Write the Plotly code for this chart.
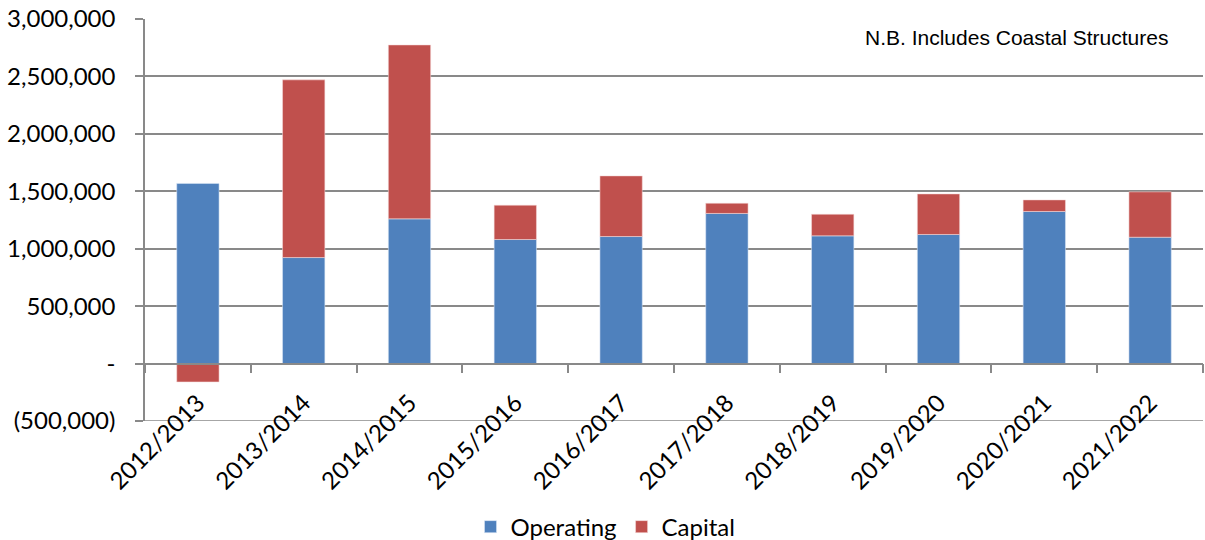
import plotly.graph_objects as go

categories = ["2012/2013", "2013/2014", "2014/2015", "2015/2016", "2016/2017",
              "2017/2018", "2018/2019", "2019/2020", "2020/2021", "2021/2022"]
operating = [1568000, 923000, 1260000, 1080000, 1106000, 1307000, 1112000, 1124000, 1324000, 1100000]
capital = [-160000, 1547000, 1514000, 299000, 528000, 89000, 188000, 353000, 101000, 395000]
ytick_vals = [-500000, 0, 500000, 1000000, 1500000, 2000000, 2500000, 3000000]
ytick_text = ["(500,000)", "-", "500,000", "1,000,000", "1,500,000", "2,000,000", "2,500,000", "3,000,000"]

FONT = "Lato"
GRID = "#898989"

fig = go.Figure()
fig.add_trace(go.Bar(x=categories, y=operating, name="Operating",
                     marker=dict(color="#4F81BD", line=dict(width=0.6, color="rgba(220,230,245,0.9)"))))
fig.add_trace(go.Bar(x=categories, y=capital, name="Capital",
                     marker=dict(color="#C0504D", line=dict(width=0.6, color="rgba(245,220,220,0.9)"))))

fig.update_layout(
    width=1205, height=540,
    barmode="relative", bargap=0.6,
    plot_bgcolor="white", paper_bgcolor="white",
    margin=dict(l=145, r=2, t=19, b=119, autoexpand=False),
    font=dict(family=FONT, size=24, color="#000000"),
    showlegend=True,
    legend=dict(orientation="h", xref="container", yref="container", x=0.5025, xanchor="center",
                y=0.024, yanchor="middle",
                font=dict(family=FONT, size=24), itemwidth=30, traceorder="normal"),
    xaxis=dict(anchor="free", position=1/7, showline=True, linecolor=GRID, linewidth=1.5,
               ticks="outside", ticklen=9, tickcolor=GRID, tickwidth=1.5, tickson="boundaries",
               tickangle=-45, showgrid=False, automargin=False, ticklabelstandoff=15,
               tickfont=dict(family=FONT, size=24)),
    yaxis=dict(range=[-500000, 3000000], tickvals=ytick_vals, ticktext=ytick_text,
               showgrid=True, gridcolor=GRID, gridwidth=1.5, zeroline=False,
               showline=True, linecolor=GRID, linewidth=1.5, automargin=False,
               ticks="outside", ticklen=8, tickcolor=GRID, tickwidth=1.5,
               ticklabelstandoff=15, tickfont=dict(family=FONT, size=24)),
    shapes=[dict(type="line", xref="paper", yref="y", x0=0, x1=1, y0=-500000, y1=-500000,
                 line=dict(color=GRID, width=1.5), layer="below")],
    annotations=[dict(text="N.B. Includes Coastal Structures", xref="paper", yref="paper",
                      x=0.969, y=0.955, xanchor="right", yanchor="middle", showarrow=False,
                      font=dict(family="Liberation Sans", size=21, color="#000000"))],
)

fig.write_html("out.html", config={"displayModeBar": False},
               post_script="document.body.style.margin='0';document.body.style.padding='0';")
